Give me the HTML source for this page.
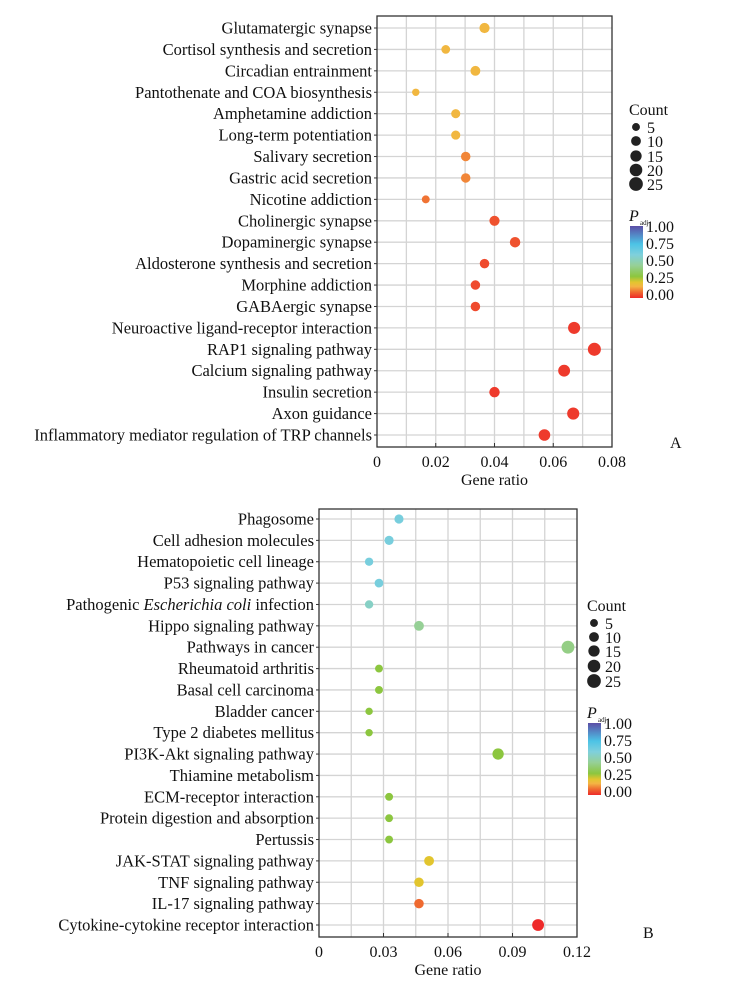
<!DOCTYPE html>
<html><head><meta charset="utf-8"><style>
html,body{margin:0;padding:0;background:#fff;}
svg{display:block;font-family:"Liberation Serif",serif;}
</style></head><body>
<svg id="chart" width="730" height="1006" viewBox="0 0 730 1006" xmlns="http://www.w3.org/2000/svg"></svg>
<script>
// Panel A data
const catsA = ["Glutamatergic synapse","Cortisol synthesis and secretion","Circadian entrainment","Pantothenate and COA biosynthesis","Amphetamine addiction","Long-term potentiation","Salivary secretion","Gastric acid secretion","Nicotine addiction","Cholinergic synapse","Dopaminergic synapse","Aldosterone synthesis and secretion","Morphine addiction","GABAergic synapse","Neuroactive ligand-receptor interaction","RAP1 signaling pathway","Calcium signaling pathway","Insulin secretion","Axon guidance","Inflammatory mediator regulation of TRP channels"];
const ratioA = [0.0366,0.0234,0.0335,0.0132,0.0268,0.0268,0.0302,0.0302,0.0166,0.040,0.047,0.0366,0.0335,0.0335,0.0671,0.074,0.0637,0.040,0.0668,0.057];
const countA = [11,7,10,4,8,8,9,9,5,11,12,9,9,9,18,22,17,12,18,16];
const padjA = [0.17,0.17,0.17,0.17,0.17,0.17,0.11,0.11,0.09,0.05,0.05,0.04,0.04,0.04,0.02,0.02,0.02,0.02,0.02,0.02];
const ticksA = [0,0.02,0.04,0.06,0.08];
const tickLabelsA = ["0","0.02","0.04","0.06","0.08"];
// Panel B data
const catsB = ["Phagosome","Cell adhesion molecules","Hematopoietic cell lineage","P53 signaling pathway","Pathogenic |Escherichia coli| infection","Hippo signaling pathway","Pathways in cancer","Rheumatoid arthritis","Basal cell carcinoma","Bladder cancer","Type 2 diabetes mellitus","PI3K-Akt signaling pathway","Thiamine metabolism","ECM-receptor interaction","Protein digestion and absorption","Pertussis","JAK-STAT signaling pathway","TNF signaling pathway","IL-17 signaling pathway","Cytokine-cytokine receptor interaction"];
const ratioB = [0.0372,0.0326,0.0233,0.0279,0.0233,0.0465,0.1158,0.0279,0.0279,0.0233,0.0233,0.0833,null,0.0326,0.0326,0.0326,0.0512,0.0465,0.0465,0.1019];
const countB = [8,8,6,7,6,10,21,5,5,4,4,15,0,5,5,5,10,9,9,17];
const padjB = [0.62,0.62,0.62,0.62,0.55,0.45,0.42,0.3,0.3,0.3,0.3,0.3,0.3,0.3,0.3,0.3,0.22,0.22,0.08,0.0];
const ticksB = [0,0.03,0.06,0.09,0.12];
const tickLabelsB = ["0","0.03","0.06","0.09","0.12"];
const legendCounts = [5,10,15,20,25];
const cbLabels = ["1.00","0.75","0.50","0.25","0.00"];

const NS="http://www.w3.org/2000/svg";
const svg=document.getElementById('chart');
function mk(tag,attrs,parent){const e=document.createElementNS(NS,tag);for(const k in attrs)e.setAttribute(k,attrs[k]);(parent||svg).appendChild(e);return e;}
const stops=[[0,[238,42,42]],[0.08,[239,106,48]],[0.16,[244,180,68]],[0.22,[226,197,46]],[0.3,[140,198,63]],[0.45,[150,208,150]],[0.6,[127,208,220]],[0.75,[76,195,230]],[1,[91,78,166]]];
function colorOf(p){for(let i=1;i<stops.length;i++){if(p<=stops[i][0]){const a=stops[i-1],b=stops[i];const t=(p-a[0])/(b[0]-a[0]);const c=a[1].map((v,j)=>Math.round(v+(b[1][j]-v)*t));return `rgb(${c})`;}}return 'rgb(91,78,166)';}
function rOf(c){return 1.6+Math.sqrt(c)*1.05;}
const FS='16.5', TFS='16';

function panel(cfg){
  const {id,left,right,top,bottom,xmax,ticks,labels,cats,ratio,count,padj,row0,row1,minorStep}=cfg;
  const g=mk('g',{});
  
  
  const xs=v=>left+(v/xmax)*(right-left);
  const ys=i=>row0+i*(row1-row0)/(cats.length-1);
  mk('rect',{x:left,y:top,width:right-left,height:bottom-top,fill:'#fff'},g);
  for(let v=minorStep;v<xmax-1e-9;v+=minorStep){const l=mk('line',{x1:xs(v),x2:xs(v),y1:top,y2:bottom,stroke:'#d4d4d4','stroke-width':1.3},g);}
  cats.forEach((c,i)=>{const l=mk('line',{x1:left,x2:right,y1:ys(i),y2:ys(i),stroke:'#d4d4d4','stroke-width':1.3},g);
    const t=mk('text',{x:left-5,y:ys(i)+5.5,'text-anchor':'end','font-size':FS,fill:'#111'},g);
    
    c.split('|').forEach((part,k)=>{const s=mk('tspan',{},t);if(k===1)s.setAttribute('font-style','italic');s.textContent=part;});
    mk('line',{x1:left-3,x2:left,y1:ys(i),y2:ys(i),stroke:'#333'},g);
  });
  const fr=mk('rect',{x:left,y:top,width:right-left,height:bottom-top,fill:'none',stroke:'#333','stroke-width':1.3},g);
  
  ticks.forEach((v,i)=>{mk('line',{x1:xs(v),x2:xs(v),y1:bottom,y2:bottom-4,stroke:'#333'},g);
    const t=mk('text',{x:xs(v),y:bottom+20,'text-anchor':'middle','font-size':TFS,fill:'#111'},g);t.textContent=labels[i];
    });
  const xt=mk('text',{x:(left+right)/2,y:bottom+38,'text-anchor':'middle','font-size':TFS,fill:'#111'},g);xt.textContent='Gene ratio';
  
  ratio.forEach((v,i)=>{if(v==null)return;const c=mk('circle',{cx:xs(v),cy:ys(i),r:rOf(count[i]),fill:colorOf(padj[i])},g);
    });
}
function legend(cfg){
  const {id,x,cy,cbTop,cbBot,panelLabel,plx,ply}=cfg;
  const g=mk('g',{});
  
  
  const t=mk('text',{x:x-7,y:cy[0]-12,'font-size':TFS,fill:'#111'},g);t.textContent='Count';
  legendCounts.forEach((c,i)=>{mk('circle',{cx:x,cy:cy[i],r:rOf(c),fill:'#222'},g);
    const l=mk('text',{x:x+11,y:cy[i]+6,'font-size':TFS,fill:'#111'},g);l.textContent=c;
    });
  const p=mk('text',{x:x-7,y:cbTop-5,'font-size':'16','font-style':'italic',fill:'#111'},g);p.textContent='P';
  const s=mk('text',{x:x+4,y:cbTop-1,'font-size':'7',fill:'#111'},g);s.textContent='adj';
  const gid='grad'+id;
  const grad=mk('linearGradient',{id:gid,x1:0,y1:1,x2:0,y2:0},mk('defs',{},g));
  stops.forEach(st=>mk('stop',{offset:st[0],'stop-color':`rgb(${st[1]})`},grad));
  const cb=mk('rect',{x:x-6,y:cbTop,width:13,height:cbBot-cbTop,fill:`url(#${gid})`},g);
  
  cbLabels.forEach((l,i)=>{const tt=mk('text',{x:x+10,y:cbTop+6+i*(cbBot-cbTop-4)/4,'font-size':TFS,fill:'#111'},g);tt.textContent=l;
    });
  const pl=mk('text',{x:plx,y:ply,'font-size':'16',fill:'#111'},g);pl.textContent=panelLabel;
  
}
panel({id:'panel-a',left:377,right:612,top:16,bottom:447,xmax:0.08,ticks:ticksA,labels:tickLabelsA,cats:catsA,ratio:ratioA,count:countA,padj:padjA,row0:28,row1:435,minorStep:0.01});
panel({id:'panel-b',left:319,right:577,top:509,bottom:937,xmax:0.12,ticks:ticksB,labels:tickLabelsB,cats:catsB,ratio:ratioB,count:countB,padj:padjB,row0:519,row1:925,minorStep:0.015});
legend({id:'legend-a',x:636,cy:[127,141,156,170,184],cbTop:226,cbBot:298,panelLabel:'A',plx:670,ply:448});
legend({id:'legend-b',x:594,cy:[623,637,651,666,681],cbTop:723,cbBot:795,panelLabel:'B',plx:643,ply:938});
</script>
</body></html>
